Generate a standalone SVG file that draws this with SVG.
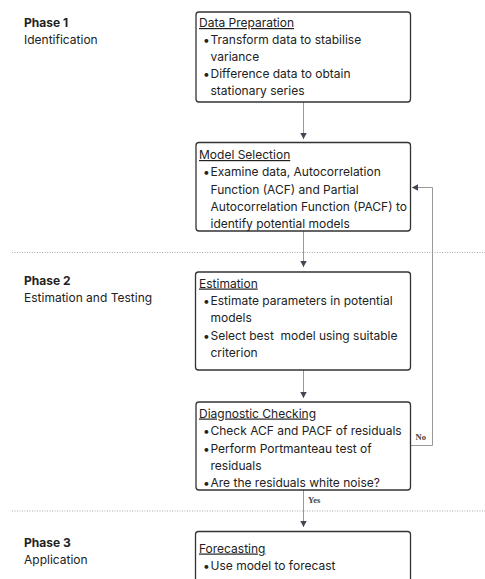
<svg xmlns="http://www.w3.org/2000/svg" width="485" height="579" viewBox="0 0 485 579">
<style>
text{font-family:Inter,"Noto Sans","Liberation Sans",sans-serif;font-size:12px;fill:#222}
.ph{font-weight:700}
.hd{text-decoration:underline}
.box{fill:#fff;stroke:#333;stroke-width:1.3}
.ln{fill:none;stroke:#999;stroke-width:1}
.sep{stroke:#aaa;stroke-width:1;stroke-dasharray:1 1.5}
.lbl{font-family:"Liberation Serif",serif;font-size:8.5px;font-weight:700;fill:#444}
</style>
<defs>
<marker id="ah" viewBox="0 0 6 8" refX="6" refY="4" markerWidth="6" markerHeight="8" markerUnits="userSpaceOnUse" orient="auto">
<path d="M0,0.8 L6,4 L0,7.2 Z" fill="#3f4654"/>
</marker>
</defs>
<rect width="485" height="579" fill="#fff"/>
<g id="separators">
<line class="sep" x1="12" y1="252.5" x2="485" y2="252.5"/>
<line class="sep" x1="12" y1="511" x2="485" y2="511"/>
</g>
<g id="phase1"><text class="ph" x="24" y="27">Phase 1</text><text x="24" y="44">Identification</text></g>
<g id="phase2"><text class="ph" x="24" y="285">Phase 2</text><text x="24" y="302">Estimation and Testing</text></g>
<g id="phase3"><text class="ph" x="24" y="547">Phase 3</text><text x="24" y="564">Application</text></g>
<g id="connectors">
<line class="ln" x1="303.5" y1="102" x2="303.5" y2="139" marker-end="url(#ah)"/>
<line class="ln" x1="303.5" y1="231" x2="303.5" y2="267" marker-end="url(#ah)"/>
<line class="ln" x1="303.5" y1="370" x2="303.5" y2="398" marker-end="url(#ah)"/>
<line class="ln" x1="303.5" y1="490" x2="303.5" y2="527" marker-end="url(#ah)"/>
<polyline class="ln" points="411,445.5 432.5,445.5 432.5,187.5 412,187.5" marker-end="url(#ah)"/>
<text class="lbl" x="415.5" y="440">No</text>
<text class="lbl" x="308" y="503">Yes</text>
</g>
<g id="data-preparation">
<rect class="box" x="196" y="12" width="214.5" height="90" rx="3"/>
<text class="hd" x="199" y="27">Data Preparation</text>
<text x="203" y="43.5">•</text><text x="210.5" y="43.5">Transform data to stabilise</text>
<text x="210.5" y="60.5">variance</text>
<text x="203" y="77.5">•</text><text x="210.5" y="77.5">Difference data to obtain</text>
<text x="210.5" y="94.5">stationary series</text>
</g>
<g id="model-selection">
<rect class="box" x="196" y="142.5" width="214.5" height="88.5" rx="3"/>
<text class="hd" x="199" y="159">Model Selection</text>
<text x="203" y="176">•</text><text x="210.5" y="176">Examine data, Autocorrelation</text>
<text x="210.5" y="193.5">Function (ACF) and Partial</text>
<text x="210.5" y="211">Autocorrelation Function (PACF) to</text>
<text x="210.5" y="228">identify potential models</text>
</g>
<g id="estimation">
<rect class="box" x="195.5" y="272" width="215" height="98" rx="3"/>
<text class="hd" x="199" y="287.5">Estimation</text>
<text x="203" y="305">•</text><text x="210.5" y="305">Estimate parameters in potential</text>
<text x="210.5" y="322">models</text>
<text x="203" y="339.5">•</text><text x="210.5" y="339.5" xml:space="preserve">Select best  model using suitable</text>
<text x="210.5" y="356.5">criterion</text>
</g>
<g id="diagnostic-checking">
<rect class="box" x="196" y="402" width="214.5" height="88" rx="3"/>
<text class="hd" x="199" y="417.5">Diagnostic Checking</text>
<text x="203" y="435">•</text><text x="210.5" y="435">Check ACF and PACF of residuals</text>
<text x="203" y="452.5">•</text><text x="210.5" y="452.5">Perform Portmanteau test of</text>
<text x="210.5" y="469.5">residuals</text>
<text x="203" y="486.5">•</text><text x="210.5" y="486.5">Are the residuals white noise?</text>
</g>
<g id="forecasting">
<rect class="box" x="195.5" y="531.5" width="215" height="60" rx="3"/>
<text class="hd" x="199" y="552.5">Forecasting</text>
<text x="203" y="569.5">•</text><text x="210.5" y="569.5">Use model to forecast</text>
</g>
</svg>
